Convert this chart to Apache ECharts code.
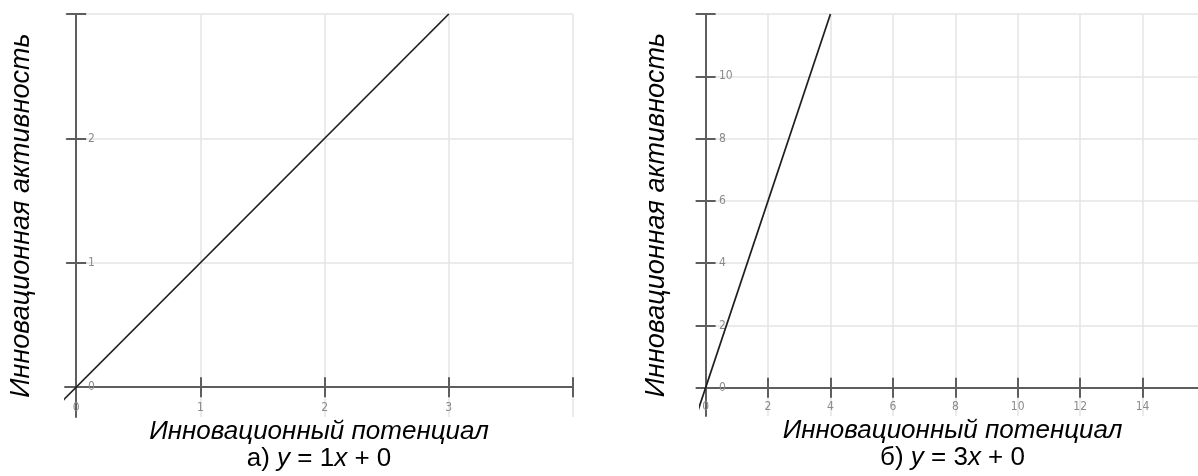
<!DOCTYPE html>
<html>
<head>
<meta charset="utf-8">
<script src="https://cdn.jsdelivr.net/npm/echarts@6/dist/echarts.min.js"></script>
<style>
html,body{margin:0;padding:0;background:#fff;}
#c{width:1198px;height:476px;}
</style>
</head>
<body>
<div id="c"></div>
<script>
// ---- data ----
// chart а): y = 1x + 0
const xRangeA = [-0.09, 4];
const yRangeA = [-0.24, 3];
const xTicksA = [0, 1, 2, 3, 4];
const xLabelsA = [0, 1, 2, 3];
const yTicksA = [0, 1, 2, 3];
const yLabelsA = [0, 1, 2];
const lineAx = [-0.5, 3];
const lineAy = [-0.5, 3];
// chart б): y = 3x + 0
const xRangeB = [-0.18, 16];
const yRangeB = [-0.91, 12];
const xTicksB = [0, 2, 4, 6, 8, 10, 12, 14, 16];
const xLabelsB = [0, 2, 4, 6, 8, 10, 12, 14];
const yTicksB = [0, 2, 4, 6, 8, 10, 12];
const yLabelsB = [0, 2, 4, 6, 8, 10];
const lineBx = [-0.5, 4];
const lineBy = [-1.5, 12];

const xTitle = 'Инновационный потенциал';
const yTitle = 'Инновационная активность';
const captionA = ['а) ', 'y', ' = 1', 'x', ' + 0'];
const captionB = ['б) ', 'y', ' = 3', 'x', ' + 0'];

// ---- styles ----
const AXIS_COLOR = '#5e5e5e';
const GRID_COLOR = '#e4e4e4';
const LABEL_FONT = "'Liberation Sans Narrow','DejaVu Sans Condensed','Liberation Sans',sans-serif";
const TEXT_FONT = "'Liberation Sans',Arial,sans-serif";

function captionRich(parts) {
  return '{t|' + xTitle + '}\n{n|' + parts[0] + '}{i|' + parts[1] + '}{n|' + parts[2] + '}{i|' + parts[3] + '}{n|' + parts[4] + '}';
}
const nameRich = {
  t: {fontSize: 26, fontStyle: 'italic', fontFamily: TEXT_FONT, color: '#000', lineHeight: 27},
  n: {fontSize: 26, fontFamily: TEXT_FONT, color: '#000', lineHeight: 27},
  i: {fontSize: 26, fontStyle: 'italic', fontFamily: TEXT_FONT, color: '#000', lineHeight: 27}
};

function xAxes(grid, range, ticks, labels, caption) {
  const primary = {
    type: 'value', gridIndex: grid, min: range[0], max: range[1], position: 'bottom',
    axisLine: {show: true, onZero: true, lineStyle: {color: AXIS_COLOR, width: 2}},
    axisTick: {show: true, inside: false, length: 10, customValues: ticks, lineStyle: {color: AXIS_COLOR, width: 2}},
    axisLabel: {show: true, inside: true, customValues: labels, margin: 3, color: '#8a8a8a', fontSize: 12, fontFamily: LABEL_FONT},
    splitLine: {show: true, lineStyle: {color: GRID_COLOR, width: 1.5}},
    name: captionRich(caption), nameLocation: 'middle', nameGap: 1,
    nameTextStyle: {rich: nameRich}
  };
  const secondary = {
    type: 'value', gridIndex: grid, min: range[0], max: range[1], position: 'bottom',
    axisLine: {show: false, onZero: true},
    axisTick: {show: true, inside: true, length: 10, customValues: ticks, lineStyle: {color: AXIS_COLOR, width: 2}},
    axisLabel: {show: false},
    splitLine: {show: false}
  };
  return [primary, secondary];
}
function yAxes(grid, range, ticks, labels, labelMargin) {
  const primary = {
    type: 'value', gridIndex: grid, min: range[0], max: range[1], position: 'left',
    axisLine: {show: true, onZero: true, lineStyle: {color: AXIS_COLOR, width: 2}},
    axisTick: {show: true, inside: false, length: 10, customValues: ticks, lineStyle: {color: AXIS_COLOR, width: 2}},
    axisLabel: {show: true, inside: true, customValues: labels, margin: labelMargin, color: '#8a8a8a', fontSize: 12, fontFamily: LABEL_FONT},
    splitLine: {show: true, lineStyle: {color: GRID_COLOR, width: 1.5}},
    name: yTitle, nameLocation: 'middle', nameGap: 30,
    nameTextStyle: {fontSize: 27, fontStyle: 'italic', fontFamily: TEXT_FONT, color: '#000'}
  };
  const secondary = {
    type: 'value', gridIndex: grid, min: range[0], max: range[1], position: 'left',
    axisLine: {show: false, onZero: true},
    axisTick: {show: true, inside: true, length: 10, customValues: ticks, lineStyle: {color: AXIS_COLOR, width: 2}},
    axisLabel: {show: false},
    splitLine: {show: false}
  };
  return [primary, secondary];
}

const chart = echarts.init(document.getElementById('c'), null, {renderer: 'canvas'});
chart.setOption({
  animation: false,
  backgroundColor: '#fff',
  grid: [
    {left: 65, top: 14, width: 508, height: 403, containLabel: false, outerBoundsMode: 'none'},
    {left: 700, top: 14, width: 505, height: 402, containLabel: false, outerBoundsMode: 'none'}
  ],
  xAxis: [].concat(
    xAxes(0, xRangeA, xTicksA, xLabelsA, captionA),
    xAxes(1, xRangeB, xTicksB, xLabelsB, captionB)
  ),
  yAxis: [].concat(
    yAxes(0, yRangeA, yTicksA, yLabelsA, 23),
    yAxes(1, yRangeB, yTicksB, yLabelsB, 19)
  ),
  series: [
    {
      type: 'line', xAxisIndex: 0, yAxisIndex: 0, symbol: 'none', clip: true,
      lineStyle: {color: '#1e1e1e', width: 1.7},
      data: lineAx.map((x, i) => [x, lineAy[i]])
    },
    {
      type: 'line', xAxisIndex: 2, yAxisIndex: 2, symbol: 'none', clip: true,
      lineStyle: {color: '#1e1e1e', width: 1.7},
      data: lineBx.map((x, i) => [x, lineBy[i]])
    }
  ]
});
</script>
</body>
</html>
